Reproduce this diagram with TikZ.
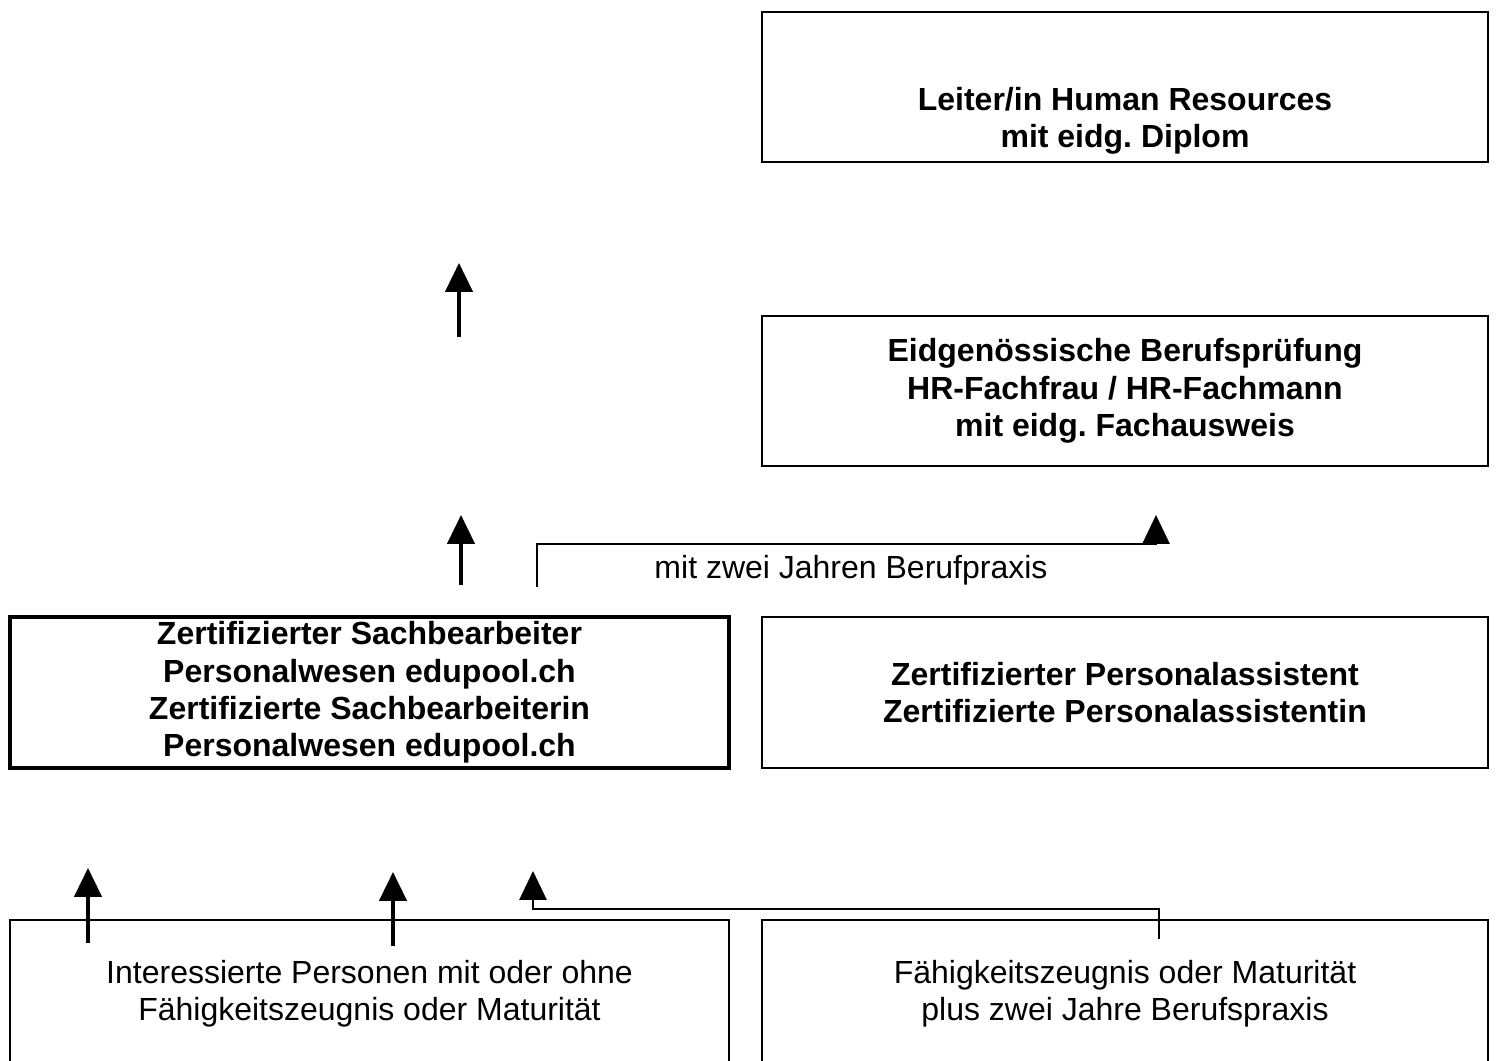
\documentclass[tikz,border=0pt]{standalone}
\usepackage{fontspec}
\setmainfont{Liberation Sans}
\frenchspacing
\usetikzlibrary{arrows.meta}
\begin{document}
\begin{tikzpicture}[x=0.375pt,y=-0.375pt,>={Triangle[width=10.2pt,length=10.8pt]},
  plain/.style={align=center,font=\fontsize{12}{14}\selectfont},
  heavy/.style={align=center,font=\fontsize{12}{14}\selectfont\bfseries},
  box/.style={draw,line width=0.75pt,minimum width=272.25pt,minimum height=56.25pt,inner sep=0pt},
  leftbox/.style={box,minimum width=269.6pt},
  up/.style={->,line width=1.3pt},
  link/.style={->,line width=0.6pt}]
 \useasboundingbox (0,0) rectangle (1497,1061);
 \clip (0,0) rectangle (1497,1061);
 % boxes
 \node[box] (leiter) at (1125,87) {};
 \node[heavy] (leitertext) at (1125,121) {Leiter/in Human Resources\\mit eidg. Diplom};
 \node[box,heavy] (eidg) at (1125,391) {Eidgen\"ossische Berufspr\"ufung\\HR-Fachfrau / HR-Fachmann\\mit eidg. Fachausweis};
 \node[leftbox,heavy,line width=1.4pt,minimum height=56.6pt] (sachb) at (369.5,692.5)
   {Zertifizierter Sachbearbeiter\\Personalwesen edupool.ch\\Zertifizierte Sachbearbeiterin\\Personalwesen edupool.ch};
 \node[box,heavy,minimum height=56.6pt] (assist) at (1125,692.5) {Zertifizierter Personalassistent\\Zertifizierte Personalassistentin};
 \node[leftbox,plain,line width=0.9pt,minimum height=55.5pt] (interes) at (369.5,994)
   {Interessierte Personen mit oder ohne\\F\"ahigkeitszeugnis oder Maturit\"at};
 \node[box,plain,line width=0.9pt,minimum height=55.5pt] (faehig) at (1125,994)
   {F\"ahigkeitszeugnis oder Maturit\"at\\plus zwei Jahre Berufspraxis};
 \node[plain] (praxis) at (851,570) {mit zwei Jahren Berufpraxis};
 % arrows
 \coordinate (a1) at (459,337); \coordinate (a1e) at (459,263);
 \coordinate (a2) at (461,585); \coordinate (a2e) at (461,515);
 \coordinate (a3) at (88,943);  \coordinate (a3e) at (88,868);
 \coordinate (a4) at (393,946); \coordinate (a4e) at (393,872);
 \draw[up] (a1) -- (a1e);
 \draw[up] (a2) -- (a2e);
 \draw[up] (a3) -- (a3e);
 \draw[up] (a4) -- (a4e);
 \coordinate (c1) at (537,587); \coordinate (c1m) at (1156,544); \coordinate (c1e) at (1156,515);
 \coordinate (c2) at (1159,939); \coordinate (c2m) at (533,909); \coordinate (c2e) at (533,871);
 \draw[link] (c1) |- (c1m) -- (c1e);
 \draw[link] (c2) |- (c2m) -- (c2e);
\end{tikzpicture}
\end{document}
